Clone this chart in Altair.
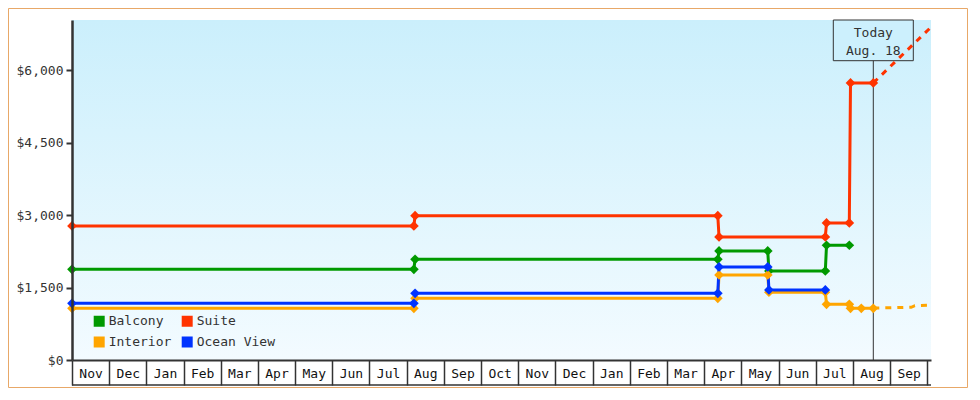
import calendar
import altair as alt
import pandas as pd

# ---------------- data ----------------
# legend order (filled column by column: Balcony/Interior, then Suite/Ocean View)
SERIES = ["Balcony", "Interior", "Suite", "Ocean View"]
COLORS = ["#009900", "#ffa500", "#ff3300", "#0033ff"]

BALCONY_DATES = ["2022-11-01", "2023-08-07", "2023-08-08", "2024-04-12", "2024-04-13",
                 "2024-05-23", "2024-05-24", "2024-07-09", "2024-07-10", "2024-07-29"]
BALCONY_PRICES = [1878, 1878, 2086, 2086, 2258, 2258, 1843, 1843, 2376, 2376]

SUITE_DATES = ["2022-11-01", "2023-08-07", "2023-08-08", "2024-04-12", "2024-04-13",
               "2024-07-09", "2024-07-10", "2024-07-29", "2024-07-30", "2024-08-18"]
SUITE_PRICES = [2775, 2775, 2989, 2989, 2548, 2548, 2838, 2838, 5737, 5737]

INTERIOR_DATES = ["2022-11-01", "2023-08-07", "2023-08-08", "2024-04-12", "2024-04-13",
                  "2024-05-23", "2024-05-24", "2024-07-09", "2024-07-10", "2024-07-29",
                  "2024-07-30", "2024-08-08", "2024-08-18"]
INTERIOR_PRICES = [1071, 1071, 1278, 1278, 1761, 1761, 1405, 1405, 1154, 1154, 1071, 1071, 1071]

OCEAN_DATES = ["2022-11-01", "2023-08-07", "2023-08-08", "2024-04-12", "2024-04-13",
               "2024-05-23", "2024-05-24", "2024-07-09"]
OCEAN_PRICES = [1174, 1174, 1381, 1381, 1926, 1926, 1450, 1450]

SUITE_FORECAST_DATES = ["2024-08-18", "2024-10-04"]
SUITE_FORECAST_PRICES = [5737, 6890]
INTERIOR_FORECAST_DATES = ["2024-08-18", "2024-09-18", "2024-09-21", "2024-10-04"]
INTERIOR_FORECAST_PRICES = [1075, 1092, 1125, 1138]

MONTH_LABELS = ["Nov", "Dec", "Jan", "Feb", "Mar", "Apr", "May", "Jun", "Jul", "Aug",
                "Sep", "Oct", "Nov", "Dec", "Jan", "Feb", "Mar", "Apr", "May", "Jun",
                "Jul", "Aug", "Sep"]
Y_TICKS = [0, 1500, 3000, 4500, 6000]
TODAY = "2024-08-18"
TODAY_LINE1 = "Today"
TODAY_LINE2 = "Aug. 18"

FONT = "DejaVu Sans Mono"
INK = "#333333"


def month_pos(s):
    """Position on the month-uniform axis (0 = start of Nov 2022)."""
    y, m, d = map(int, s.split("-"))
    return (y - 2022) * 12 + (m - 11) + (d - 1) / calendar.monthrange(y, m)[1]


def frame(name, dates, prices):
    return pd.DataFrame({"series": name,
                         "pos": [month_pos(d) for d in dates],
                         "price": prices})


hist = pd.concat([
    frame("Balcony", BALCONY_DATES, BALCONY_PRICES),
    frame("Suite", SUITE_DATES, SUITE_PRICES),
    frame("Interior", INTERIOR_DATES, INTERIOR_PRICES),
    frame("Ocean View", OCEAN_DATES, OCEAN_PRICES),
], ignore_index=True)

fcst = pd.concat([
    frame("Suite", SUITE_FORECAST_DATES, SUITE_FORECAST_PRICES),
    frame("Interior", INTERIOR_FORECAST_DATES, INTERIOR_FORECAST_PRICES),
], ignore_index=True)

today_df = pd.DataFrame({"pos": [month_pos(TODAY)], "price": [0],
                         "l1": [TODAY_LINE1], "l2": [TODAY_LINE2]})

N_MONTHS = len(MONTH_LABELS)
xscale = alt.Scale(domain=[0, N_MONTHS + 0.1], nice=False, zero=False)
yscale = alt.Scale(domain=[0, 7040], nice=False)
# legend (fill) scale in legend order
cscale = alt.Scale(domain=SERIES, range=COLORS)
# line (stroke) scale: same colours, alphabetical order so it stays a separate scale
_pairs = sorted(zip(SERIES, COLORS))
sscale = alt.Scale(domain=[p[0] for p in _pairs], range=[p[1] for p in _pairs])

label_array = "[" + ",".join("'%s'" % m for m in MONTH_LABELS) + "]"
x_axis = alt.Axis(
    values=list(range(N_MONTHS + 1)),
    labelExpr="datum.value < %d ? %s[datum.value] : ''" % (N_MONTHS, label_array),
    tickSize=25, tickWidth=1.5, tickColor=INK,
    domainColor=INK, domainWidth=2,
    labelOffset=18.6, labelPadding=-12, labelBaseline="middle", labelAlign="center",
    labelFlush=False, labelOverlap=False, labelFontSize=13, labelColor="#111111",
    labelFont=FONT, grid=False, title=None, zindex=1,
)
y_axis = alt.Axis(
    values=Y_TICKS, format="$,d", tickSize=6, tickWidth=2, tickColor=INK,
    domainColor=INK, domainWidth=2.5, labelPadding=3, labelFontSize=13,
    labelColor=INK, labelFont=FONT, grid=False, title=None, zindex=1,
)

X = alt.X("pos:Q", scale=xscale, axis=x_axis)
Y = alt.Y("price:Q", scale=yscale, axis=y_axis)

# plot background gradient
bg = alt.Chart(today_df).mark_rect(
    color=alt.LinearGradient(
        gradient="linear", x1=0, y1=0, x2=0, y2=1,
        stops=[alt.GradientStop(offset=0, color="#cbeffc"),
               alt.GradientStop(offset=1, color="#f3fbff")])
).encode(x=alt.value(0), x2=alt.value(859), y=alt.value(0), y2=alt.value(340))

# today annotation
today_box = alt.Chart(today_df).mark_rect(
    fill="#ccf0fd", stroke=INK, strokeWidth=1, xOffset=-40, x2Offset=40
).encode(x=X, x2="pos:Q", y=alt.value(0), y2=alt.value(40.7))
today_rule = alt.Chart(today_df).mark_rule(color=INK, strokeWidth=1).encode(
    x=X, y=alt.value(40.7), y2=alt.value(340))
today_t1 = alt.Chart(today_df).mark_text(
    font=FONT, fontSize=13, color=INK, baseline="middle", align="center"
).encode(x=X, y=alt.value(12.5), text="l1:N")
today_t2 = alt.Chart(today_df).mark_text(
    font=FONT, fontSize=13, color=INK, baseline="middle", align="center"
).encode(x=X, y=alt.value(30.5), text="l2:N")

lines = alt.Chart(hist).mark_line(strokeWidth=3).encode(
    x=X, y=Y, stroke=alt.Stroke("series:N", scale=sscale, legend=None),
    detail="series:N")

fc_lines = alt.Chart(fcst).mark_line(strokeWidth=3, strokeDash=[6, 6]).encode(
    x=X, y=Y, stroke=alt.Stroke("series:N", scale=sscale, legend=None),
    detail="series:N")

points = alt.Chart(hist).mark_point(shape="diamond", filled=True, size=95, opacity=1).encode(
    x=X, y=Y,
    color=alt.Color("series:N", scale=cscale, legend=alt.Legend(
        orient="none", legendX=20.7, legendY=294.5, columns=2, title=None,
        symbolType="square", symbolSize=121, symbolStrokeWidth=0, symbolOpacity=1,
        labelFontSize=13, labelFont=FONT, labelColor=INK, labelOffset=3,
        rowPadding=7, columnPadding=9, padding=0, zindex=2)))

box_bottom = alt.Chart(today_df).mark_rule(color=INK, strokeWidth=1.5).encode(
    x=alt.value(0), x2=alt.value(859), y=alt.value(365))

border = alt.Chart(today_df).mark_rect(fill="transparent", stroke="#e8a868", strokeWidth=1).encode(
    x=alt.value(-63.5), x2=alt.value(895.5), y=alt.value(-11.5), y2=alt.value(367.5))

chart = alt.layer(
    bg, lines, today_box, today_rule, fc_lines, points, today_t1, today_t2, box_bottom, border
).properties(
    width=859, height=340,
    padding={"left": 64, "top": 12, "right": 37, "bottom": 28},
    autosize=alt.AutoSizeParams(type="none"),
).configure(font=FONT).configure_view(stroke=None)

chart.save("out.html", embed_options={"renderer": "svg", "actions": False})
